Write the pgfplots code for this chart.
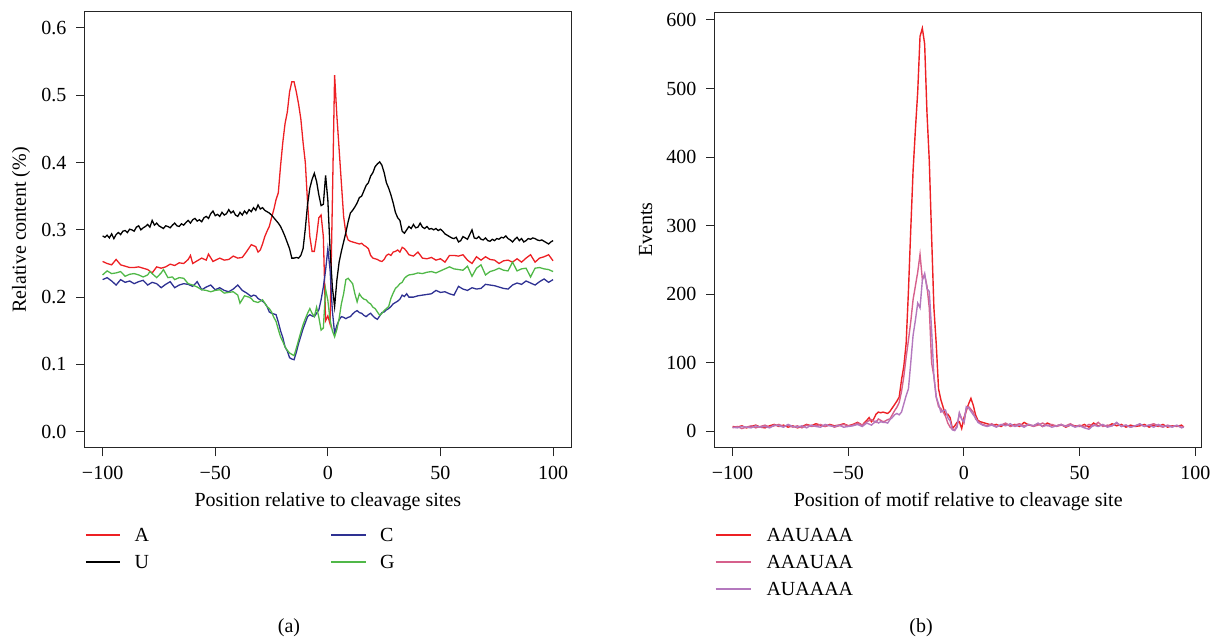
\documentclass[border=0pt]{standalone}
\usepackage{fontspec}
\setmainfont{Liberation Serif}
\usepackage{pgfplots}
\pgfplotsset{compat=1.18}

\definecolor{cA}{RGB}{237,32,36}
\definecolor{cC}{RGB}{46,49,146}
\definecolor{cG}{RGB}{80,184,72}
\definecolor{cM1}{RGB}{237,32,36}
\definecolor{cM2}{RGB}{214,96,140}
\definecolor{cM3}{RGB}{180,120,190}

\pgfplotsset{
  rplot/.style={
    scale only axis,
    axis line style={line width=0.5pt, black!85},
    tick style={line width=0.5pt, black!85},
    tick align=outside, major tick length=4.25pt,
    xtick pos=left, ytick pos=left,
    minor tick num=0,
    xticklabel style={anchor=base, inner sep=0pt, yshift=-11.75pt},
    yticklabel style={anchor=east, inner sep=0pt, xshift=-4.65pt},
    xlabel style={at={(axis description cs:0.5,0)}, anchor=base, inner sep=0pt, yshift=-29.4pt},
    legend cell align=left,
    every axis plot/.append style={line width=0.65pt},
  },
}

\begin{document}
\begin{tikzpicture}
\useasboundingbox (0,0) rectangle (607.5pt,321pt);

% (a) nucleotide content
\begin{axis}[rplot,
  at={(42.3pt,97.07pt)}, anchor=south west,
  width=243.25pt, height=218pt,
  xmin=-108, xmax=108, ymin=-0.024, ymax=0.624,
  xtick={-100,-50,0,50,100}, xticklabels={−100,−50,0,50,100},
  ytick={0,0.1,0.2,0.3,0.4,0.5,0.6},
  yticklabels={0.0,0.1,0.2,0.3,0.4,0.5,0.6},
  xlabel={Position relative to cleavage sites},
  ylabel={Relative content (\%)},
  ylabel style={at={(axis description cs:-0.1307,0.5)}, anchor=center},
  legend columns=2,
  legend image code/.code={\draw[#1, line width=0.8pt] (0pt,3.3pt) -- (17.2pt,3.3pt);},
  legend style={at={(axis description cs:0,0)}, anchor=north west, yshift=-40pt,
    draw=none, fill=none, inner sep=0pt, row sep=5.4pt,
    nodes={inner sep=0pt, anchor=base west},
    /tikz/every odd column/.append style={column sep=6.85pt},
    /tikz/every even column/.append style={column sep=90.6pt}},
]
\addplot[cA, forget plot] coordinates {(-100,0.253)(-98,0.250)(-96,0.248)(-94,0.256)(-92,0.248)(-90,0.246)(-88,0.244)(-86,0.244)(-84,0.245)(-82,0.243)(-80,0.241)(-78,0.236)(-76,0.245)(-74,0.243)(-72,0.245)(-70,0.249)(-68,0.247)(-66,0.251)(-64,0.250)(-62,0.256)(-61,0.262)(-60,0.250)(-58,0.254)(-56,0.258)(-54,0.255)(-53,0.264)(-51,0.253)(-48,0.258)(-46,0.255)(-44,0.256)(-42,0.261)(-40,0.258)(-38,0.259)(-36,0.268)(-34,0.278)(-32,0.275)(-31,0.267)(-30,0.270)(-29,0.279)(-28,0.290)(-27,0.298)(-26,0.305)(-25,0.318)(-24,0.330)(-23,0.345)(-22,0.355)(-21,0.395)(-20,0.430)(-19,0.458)(-18,0.475)(-17,0.505)(-16,0.520)(-15,0.520)(-14,0.505)(-13,0.487)(-12,0.465)(-11,0.430)(-10,0.400)(-9,0.340)(-8,0.290)(-7,0.268)(-6,0.268)(-5,0.290)(-4,0.318)(-3,0.322)(-2,0.290)(-1,0.165)(0,0.172)(1,0.160)(2,0.340)(3,0.530)(4,0.470)(5,0.420)(6,0.370)(7,0.320)(8,0.295)(9,0.285)(10,0.283)(11,0.282)(12,0.281)(13,0.280)(14,0.279)(15,0.280)(16,0.277)(17,0.275)(18,0.272)(19,0.262)(20,0.258)(21,0.257)(22,0.256)(23,0.254)(24,0.253)(25,0.256)(26,0.262)(27,0.264)(28,0.262)(29,0.267)(30,0.268)(31,0.270)(32,0.267)(33,0.274)(34,0.272)(35,0.268)(36,0.263)(38,0.261)(40,0.267)(42,0.258)(44,0.257)(46,0.259)(48,0.255)(50,0.257)(52,0.252)(54,0.262)(56,0.262)(58,0.261)(60,0.263)(62,0.255)(64,0.250)(66,0.260)(68,0.255)(70,0.260)(72,0.256)(74,0.255)(76,0.250)(78,0.254)(80,0.255)(82,0.252)(84,0.257)(86,0.252)(88,0.258)(90,0.263)(92,0.252)(94,0.258)(96,0.260)(98,0.263)(100,0.254)};
\addplot[black, forget plot] coordinates {(-100,0.291)(-99,0.289)(-98,0.292)(-97,0.288)(-96,0.294)(-95,0.287)(-94,0.293)(-93,0.296)(-92,0.293)(-91,0.298)(-90,0.299)(-89,0.296)(-88,0.301)(-87,0.300)(-86,0.298)(-85,0.304)(-84,0.306)(-83,0.300)(-82,0.303)(-81,0.305)(-80,0.308)(-79,0.304)(-78,0.314)(-77,0.307)(-76,0.310)(-75,0.306)(-74,0.304)(-73,0.302)(-72,0.306)(-71,0.305)(-70,0.303)(-69,0.307)(-68,0.310)(-67,0.306)(-66,0.305)(-65,0.309)(-64,0.307)(-63,0.311)(-62,0.314)(-61,0.310)(-60,0.315)(-59,0.317)(-58,0.313)(-57,0.315)(-56,0.312)(-55,0.318)(-54,0.320)(-53,0.317)(-52,0.324)(-51,0.328)(-50,0.321)(-49,0.323)(-48,0.320)(-47,0.326)(-46,0.322)(-45,0.324)(-44,0.330)(-43,0.325)(-42,0.328)(-41,0.322)(-40,0.320)(-39,0.326)(-38,0.322)(-37,0.328)(-36,0.324)(-35,0.330)(-34,0.327)(-33,0.333)(-32,0.329)(-31,0.337)(-30,0.331)(-29,0.333)(-28,0.329)(-27,0.327)(-26,0.325)(-25,0.322)(-24,0.318)(-23,0.314)(-22,0.310)(-21,0.305)(-20,0.298)(-19,0.290)(-18,0.281)(-17,0.272)(-16,0.258)(-15,0.258)(-14,0.259)(-13,0.258)(-12,0.262)(-11,0.272)(-10,0.302)(-9,0.338)(-8,0.362)(-7,0.375)(-6,0.384)(-5,0.372)(-4,0.352)(-3,0.336)(-2,0.338)(-1,0.381)(0,0.344)(1,0.270)(2,0.215)(3,0.186)(4,0.225)(5,0.252)(6,0.268)(7,0.282)(8,0.296)(9,0.312)(10,0.325)(11,0.329)(12,0.334)(13,0.340)(14,0.348)(15,0.350)(16,0.358)(17,0.366)(18,0.370)(19,0.380)(20,0.385)(21,0.394)(22,0.398)(23,0.401)(24,0.396)(25,0.385)(26,0.370)(27,0.362)(28,0.352)(29,0.340)(30,0.326)(31,0.318)(32,0.314)(33,0.298)(34,0.295)(35,0.300)(36,0.305)(37,0.302)(38,0.308)(39,0.303)(40,0.304)(41,0.310)(42,0.304)(43,0.302)(44,0.305)(45,0.301)(46,0.302)(47,0.300)(48,0.302)(49,0.299)(50,0.301)(51,0.298)(52,0.294)(53,0.292)(54,0.290)(55,0.288)(56,0.287)(57,0.289)(58,0.282)(59,0.284)(60,0.290)(61,0.288)(62,0.286)(63,0.293)(64,0.300)(65,0.288)(66,0.287)(67,0.290)(68,0.286)(69,0.285)(70,0.288)(71,0.284)(72,0.283)(73,0.286)(74,0.284)(75,0.287)(76,0.286)(77,0.289)(78,0.288)(79,0.291)(80,0.287)(81,0.285)(82,0.282)(83,0.286)(84,0.289)(85,0.284)(86,0.287)(87,0.282)(88,0.284)(89,0.287)(90,0.286)(91,0.288)(92,0.287)(93,0.285)(94,0.284)(95,0.285)(96,0.283)(97,0.281)(98,0.279)(99,0.282)(100,0.284)};
\addplot[cC, forget plot] coordinates {(-100,0.226)(-98,0.229)(-96,0.224)(-94,0.218)(-92,0.226)(-90,0.222)(-88,0.224)(-86,0.220)(-84,0.223)(-82,0.225)(-80,0.218)(-78,0.222)(-76,0.220)(-74,0.214)(-72,0.219)(-70,0.223)(-68,0.214)(-66,0.218)(-64,0.220)(-62,0.219)(-60,0.216)(-58,0.223)(-56,0.211)(-54,0.215)(-52,0.218)(-50,0.211)(-48,0.214)(-46,0.210)(-44,0.208)(-42,0.212)(-40,0.218)(-38,0.210)(-36,0.206)(-34,0.201)(-33,0.203)(-32,0.202)(-31,0.198)(-30,0.196)(-29,0.194)(-28,0.191)(-27,0.186)(-26,0.178)(-25,0.176)(-24,0.175)(-23,0.174)(-22,0.163)(-21,0.150)(-20,0.140)(-19,0.126)(-18,0.120)(-17,0.110)(-16,0.108)(-15,0.107)(-14,0.118)(-13,0.131)(-12,0.142)(-11,0.153)(-10,0.162)(-9,0.171)(-8,0.174)(-7,0.172)(-6,0.171)(-5,0.176)(-4,0.181)(-3,0.196)(-2,0.215)(-1,0.240)(0,0.272)(1,0.240)(2,0.180)(3,0.146)(4,0.158)(5,0.166)(6,0.171)(7,0.170)(8,0.168)(9,0.170)(10,0.171)(11,0.175)(12,0.178)(13,0.180)(14,0.177)(15,0.176)(16,0.173)(17,0.171)(18,0.174)(19,0.176)(20,0.172)(21,0.169)(22,0.167)(23,0.172)(24,0.177)(25,0.178)(26,0.181)(27,0.183)(28,0.186)(29,0.190)(30,0.192)(31,0.194)(32,0.197)(33,0.203)(34,0.201)(35,0.205)(36,0.200)(38,0.200)(40,0.202)(42,0.203)(44,0.204)(46,0.205)(48,0.210)(50,0.207)(52,0.208)(54,0.205)(56,0.203)(58,0.216)(60,0.212)(62,0.210)(64,0.214)(66,0.212)(68,0.213)(70,0.219)(72,0.218)(74,0.217)(76,0.215)(78,0.213)(80,0.212)(82,0.218)(84,0.221)(86,0.219)(88,0.224)(90,0.221)(92,0.218)(94,0.223)(96,0.227)(98,0.222)(100,0.226)};
\addplot[cG, forget plot] coordinates {(-100,0.233)(-98,0.239)(-96,0.235)(-94,0.236)(-92,0.238)(-90,0.231)(-88,0.234)(-86,0.235)(-84,0.233)(-82,0.230)(-80,0.233)(-79,0.238)(-77,0.232)(-76,0.229)(-74,0.236)(-73,0.241)(-71,0.229)(-69,0.230)(-68,0.226)(-66,0.229)(-64,0.228)(-62,0.220)(-60,0.218)(-58,0.215)(-56,0.211)(-54,0.210)(-52,0.208)(-50,0.210)(-48,0.211)(-46,0.206)(-44,0.207)(-42,0.208)(-40,0.203)(-39,0.191)(-37,0.202)(-35,0.200)(-34,0.198)(-33,0.194)(-32,0.193)(-31,0.192)(-30,0.194)(-29,0.196)(-28,0.191)(-27,0.186)(-26,0.183)(-25,0.178)(-24,0.170)(-23,0.164)(-22,0.152)(-21,0.141)(-20,0.134)(-19,0.126)(-18,0.121)(-17,0.117)(-16,0.115)(-15,0.113)(-14,0.124)(-13,0.136)(-12,0.148)(-11,0.159)(-10,0.168)(-9,0.176)(-8,0.183)(-7,0.176)(-6,0.171)(-5,0.185)(-4,0.170)(-3,0.151)(-2,0.154)(-1,0.212)(0,0.195)(1,0.166)(2,0.150)(3,0.141)(4,0.152)(5,0.168)(6,0.190)(7,0.205)(8,0.226)(9,0.228)(10,0.224)(11,0.220)(12,0.205)(13,0.193)(14,0.205)(15,0.200)(16,0.197)(17,0.196)(18,0.192)(19,0.190)(20,0.185)(21,0.183)(22,0.178)(23,0.173)(24,0.176)(25,0.180)(26,0.183)(27,0.186)(28,0.198)(29,0.206)(30,0.213)(31,0.216)(32,0.220)(33,0.222)(34,0.228)(35,0.231)(36,0.233)(38,0.234)(40,0.236)(42,0.235)(44,0.237)(46,0.238)(48,0.236)(50,0.239)(52,0.242)(54,0.245)(56,0.242)(58,0.241)(60,0.240)(62,0.246)(64,0.231)(66,0.243)(68,0.248)(70,0.233)(72,0.238)(74,0.240)(76,0.243)(78,0.240)(80,0.239)(82,0.252)(84,0.239)(86,0.242)(88,0.243)(90,0.230)(92,0.243)(94,0.244)(96,0.242)(98,0.241)(100,0.238)};
\addlegendimage{cA}
\addlegendimage{cC}
\addlegendimage{black}
\addlegendimage{cG}
\legend{A,C,U,G}
\end{axis}

% (b) motif positions
\begin{axis}[rplot,
  at={(357.27pt,97.3pt)}, anchor=south west,
  width=243.66pt, height=217.65pt,
  xmin=-107.8, xmax=102.8, ymin=-23.5, ymax=611.5,
  xtick={-100,-50,0,50,100}, xticklabels={−100,−50,0,50,100},
  ytick={0,100,200,300,400,500,600},
  yticklabels={0,100,200,300,400,500,600},
  xlabel={Position of motif relative to cleavage site},
  ylabel={Events},
  ylabel style={at={(axis description cs:-0.1411,0.5)}, anchor=center},
  legend image code/.code={\draw[#1, line width=0.8pt] (0pt,3.3pt) -- (17.85pt,3.3pt);},
  legend style={at={(axis description cs:0,0)}, anchor=north west, yshift=-40.23pt,
    draw=none, fill=none, inner sep=0pt, row sep=5.4pt,
    nodes={inner sep=0pt, anchor=base west},
    /tikz/every odd column/.append style={column sep=7.15pt}},
]
\addplot[cM1, line width=0.7pt] coordinates {(-100,7)(-98,6)(-96,8)(-94,5)(-92,7)(-90,9)(-88,6)(-86,5)(-84,8)(-82,10)(-80,7)(-78,9)(-76,6)(-74,8)(-72,5)(-70,7)(-68,10)(-66,8)(-64,11)(-62,9)(-60,7)(-58,10)(-56,8)(-54,9)(-52,11)(-50,8)(-48,10)(-46,13)(-44,9)(-42,16)(-41,20)(-40,14)(-39,18)(-38,25)(-37,28)(-36,27)(-35,28)(-34,27)(-33,26)(-32,29)(-31,34)(-30,39)(-29,44)(-28,50)(-27,75)(-26,95)(-25,128)(-24,205)(-23,295)(-22,380)(-21,440)(-20,495)(-19,576)(-18,588)(-17,565)(-16,465)(-15,395)(-14,285)(-13,180)(-12,128)(-11,62)(-10,46)(-9,35)(-8,24)(-7,25)(-6,20)(-5,4)(-4,8)(-3,13)(-2,14)(-1,4)(0,20)(1,30)(2,40)(3,48)(4,38)(5,24)(6,16)(7,14)(8,13)(9,12)(10,11)(12,9)(14,10)(16,7)(18,11)(20,8)(22,10)(24,7)(26,13)(28,9)(30,8)(32,11)(34,7)(36,12)(38,9)(40,8)(42,10)(44,6)(46,9)(48,8)(50,7)(52,10)(54,6)(56,12)(58,8)(60,9)(62,7)(64,11)(66,8)(68,10)(70,6)(72,9)(74,7)(76,8)(78,10)(80,6)(82,9)(84,7)(86,10)(88,6)(90,8)(92,7)(94,9)(95,6)};
\addplot[cM2, line width=0.7pt] coordinates {(-100,5)(-98,7)(-96,4)(-94,6)(-92,8)(-90,5)(-88,7)(-86,9)(-84,6)(-82,8)(-80,10)(-78,7)(-76,9)(-74,6)(-72,8)(-70,5)(-68,9)(-66,7)(-64,8)(-62,10)(-60,7)(-58,9)(-56,6)(-54,8)(-52,10)(-50,8)(-48,9)(-46,12)(-44,9)(-42,14)(-40,17)(-38,13)(-37,18)(-36,16)(-35,14)(-34,15)(-33,17)(-32,18)(-31,24)(-30,30)(-29,35)(-28,42)(-27,58)(-26,80)(-25,108)(-24,133)(-23,160)(-22,192)(-21,212)(-20,232)(-19,258)(-18,222)(-17,228)(-16,212)(-15,180)(-14,100)(-13,80)(-12,50)(-11,36)(-10,33)(-9,28)(-8,22)(-7,12)(-6,6)(-5,3)(-4,2)(-3,8)(-2,26)(-1,18)(0,12)(1,33)(2,36)(3,32)(4,28)(5,18)(6,15)(7,12)(8,10)(10,8)(12,11)(14,7)(16,9)(18,12)(20,7)(22,9)(24,11)(26,8)(28,10)(30,7)(32,9)(34,12)(36,8)(38,10)(40,7)(42,9)(44,8)(46,11)(48,7)(50,9)(52,6)(54,10)(56,8)(58,13)(60,7)(62,9)(64,8)(66,12)(68,7)(70,9)(72,6)(74,8)(76,10)(78,7)(80,9)(82,11)(84,8)(86,6)(88,9)(90,7)(92,8)(94,6)(95,7)};
\addplot[cM3, line width=0.7pt] coordinates {(-100,6)(-98,5)(-96,7)(-94,6)(-92,5)(-90,8)(-88,6)(-86,7)(-84,5)(-82,9)(-80,8)(-78,6)(-76,10)(-74,7)(-72,6)(-70,8)(-68,5)(-66,9)(-64,7)(-62,6)(-60,10)(-58,8)(-56,7)(-54,9)(-52,6)(-50,7)(-48,8)(-46,10)(-44,7)(-42,12)(-40,9)(-38,15)(-37,12)(-36,14)(-35,13)(-34,13)(-33,12)(-32,17)(-31,20)(-30,24)(-29,26)(-28,24)(-27,28)(-26,40)(-25,52)(-24,62)(-23,100)(-22,140)(-21,162)(-20,187)(-19,180)(-18,220)(-17,230)(-16,208)(-15,204)(-14,148)(-13,80)(-12,50)(-11,40)(-10,28)(-9,30)(-8,31)(-7,20)(-6,15)(-5,2)(-4,1)(-3,6)(-2,27)(-1,18)(0,14)(1,36)(2,34)(3,29)(4,24)(5,20)(6,13)(7,11)(8,9)(10,7)(12,9)(14,6)(16,10)(18,8)(20,11)(22,7)(24,9)(26,6)(28,10)(30,8)(32,12)(34,7)(36,9)(38,6)(40,8)(42,10)(44,7)(46,9)(48,6)(50,8)(52,5)(54,3)(56,9)(58,7)(60,10)(62,6)(64,8)(66,13)(68,7)(70,9)(72,6)(74,8)(76,11)(78,7)(80,9)(82,6)(84,10)(86,7)(88,8)(90,6)(92,9)(94,5)(95,6)};
\legend{AAUAAA,AAAUAA,AUAAAA}
\end{axis}

\node at (144.5pt,7pt) {(a)};
\node at (460.5pt,7pt) {(b)};
\end{tikzpicture}
\end{document}
